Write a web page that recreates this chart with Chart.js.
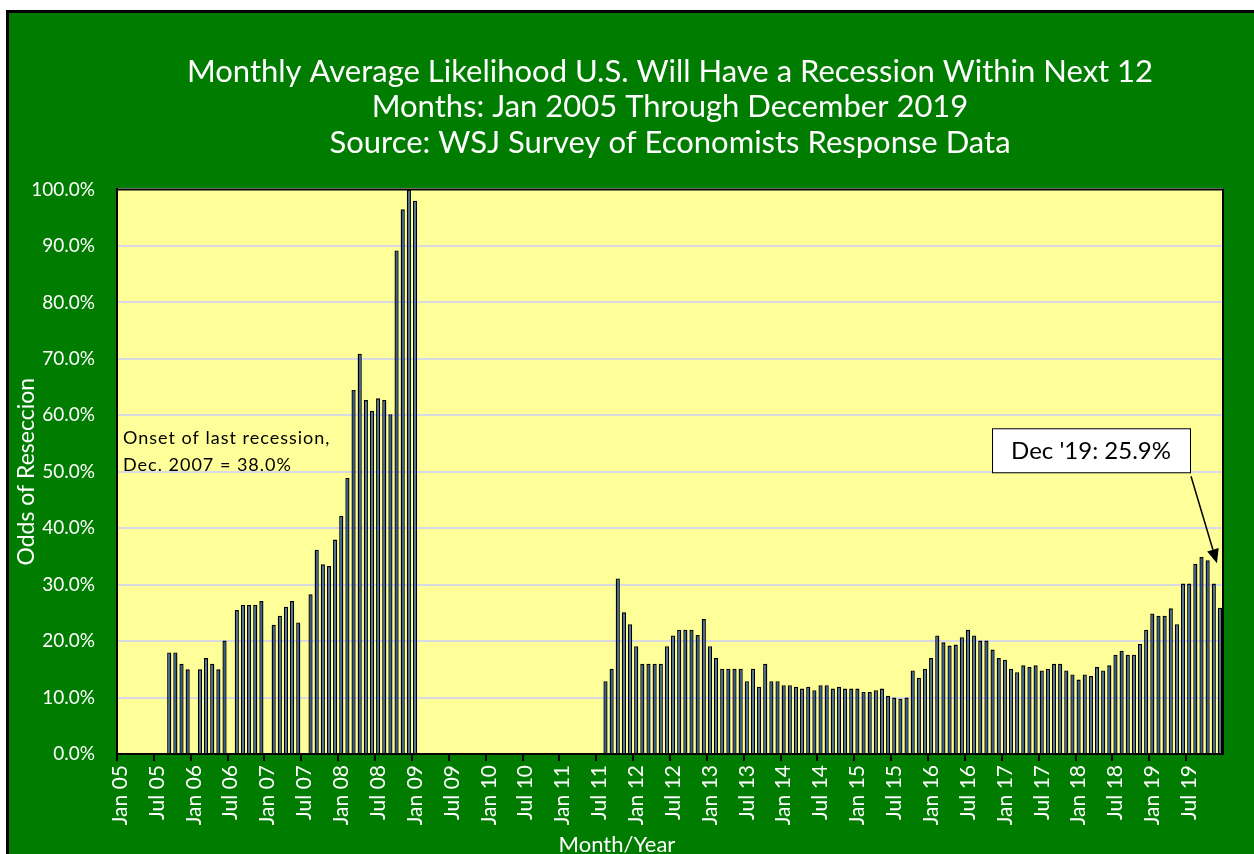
<!DOCTYPE html>
<html>
<head>
<meta charset="utf-8">
<title>Recession odds</title>
<script src="https://cdn.jsdelivr.net/npm/chart.js@4.4.1/dist/chart.umd.min.js"></script>
<style>
  html, body { margin: 0; padding: 0; background: #fff; overflow: hidden; }
  #frame { position: absolute; left: 6px; top: 10px; width: 1270px; height: 870px; background: #007D00; border: 3px solid #000; }
  #wrap { position: absolute; left: 0; top: 0; width: 1254px; height: 854px; }
</style>
</head>
<body>
<div id="frame"></div>
<div id="wrap"><canvas id="chart" width="1254" height="854"></canvas></div>
<script>
// month names and years for the category axis
const monthNames = ["Jan", "Feb", "Mar", "Apr", "May", "Jun", "Jul", "Aug", "Sep", "Oct", "Nov", "Dec"];
const years = ["05", "06", "07", "08", "09", "10", "11", "12", "13", "14", "15", "16", "17", "18", "19"];

// monthly average odds (%), null = no survey that month
const odds2005 = [null, null, null, null, null, null, null, null, 18.0, 18.0, 16.0, 15.0];
const odds2006 = [null, 15.0, 17.0, 16.0, 15.0, 20.1, null, 25.5, 26.4, 26.4, 26.4, 27.1];
const odds2007 = [null, 22.9, 24.5, 26.1, 27.1, 23.3, null, 28.3, 36.2, 33.6, 33.3, 38.0];
const odds2008 = [42.2, 48.9, 64.5, 70.9, 62.7, 60.8, 63.0, 62.7, 60.2, 89.2, 96.5, 100.0];
const odds2009 = [98.0, null, null, null, null, null, null, null, null, null, null, null];
const odds2010 = [null, null, null, null, null, null, null, null, null, null, null, null];
const odds2011 = [null, null, null, null, null, null, null, 12.9, 15.1, 31.1, 25.1, 23.0];
const odds2012 = [19.1, 16.0, 16.0, 16.0, 16.0, 19.1, 21.0, 22.0, 22.0, 22.0, 21.1, 23.9];
const odds2013 = [19.1, 17.0, 15.1, 15.1, 15.1, 15.1, 12.9, 15.1, 11.9, 16.0, 12.9, 12.9];
const odds2014 = [12.2, 12.2, 11.9, 11.6, 11.9, 11.3, 12.2, 12.2, 11.6, 11.9, 11.6, 11.6];
const odds2015 = [11.6, 11.0, 11.0, 11.3, 11.6, 10.3, 10.0, 9.8, 10.0, 14.8, 13.5, 15.1];
const odds2016 = [17.0, 21.0, 19.8, 19.2, 19.4, 20.7, 22.0, 21.0, 20.1, 20.1, 18.5, 17.0];
const odds2017 = [16.7, 15.1, 14.5, 15.7, 15.4, 15.7, 14.8, 15.1, 16.0, 16.0, 14.8, 14.1];
const odds2018 = [13.2, 14.1, 13.8, 15.4, 14.8, 15.7, 17.6, 18.3, 17.6, 17.6, 19.5, 22.0];
const odds2019 = [24.9, 24.5, 24.5, 25.8, 23.0, 30.2, 30.2, 33.7, 34.9, 34.3, 30.2, 25.9];

const titleLines = [
  "Monthly Average Likelihood U.S. Will Have a Recession Within Next 12",
  "Months: Jan 2005 Through December 2019",
  "Source: WSJ Survey of Economists Response Data"
];
const onsetNote = ["Onset of last recession,", "Dec. 2007 = 38.0%"];
const calloutText = "Dec '19: 25.9%";

const labels = [];
years.forEach(y => monthNames.forEach(m => labels.push(m + " " + y)));

const odds = [].concat(odds2005, odds2006, odds2007, odds2008, odds2009, odds2010, odds2011,
  odds2012, odds2013, odds2014, odds2015, odds2016, odds2017, odds2018, odds2019);

Chart.defaults.font.family = "Lato, 'Open Sans', sans-serif";

// yellow plot area, frame and the text notes
const plotDecor = {
  id: "plotDecor",
  beforeDraw(chart) {
    const { ctx, chartArea: a } = chart;
    ctx.save();
    ctx.fillStyle = "#FFFF99";
    ctx.fillRect(a.left, a.top, a.right - a.left, a.bottom - a.top);
    ctx.restore();
  },
  afterDraw(chart) {
    const { ctx, chartArea: a } = chart;
    const xs = chart.scales.x, ys = chart.scales.y;
    ctx.save();
    ctx.strokeStyle = "#000";
    ctx.lineWidth = 2;
    ctx.strokeRect(a.left, a.top, a.right - a.left, a.bottom - a.top);

    // onset note
    ctx.fillStyle = "#000";
    ctx.font = "18px Lato";
    ctx.letterSpacing = "1px";
    ctx.textBaseline = "middle";
    ctx.textAlign = "left";
    ctx.fillText(onsetNote[0], a.left + 6, ys.getPixelForValue(56.0));
    ctx.fillText(onsetNote[1], a.left + 6, ys.getPixelForValue(51.2));
    ctx.letterSpacing = "0px";

    // callout box
    const bx1 = a.right - 33, bx0 = bx1 - 198;
    const by0 = ys.getPixelForValue(57.7), by1 = by0 + 44;
    ctx.fillStyle = "#fff";
    ctx.fillRect(bx0, by0, bx1 - bx0, by1 - by0);
    ctx.lineWidth = 1;
    ctx.strokeRect(bx0 + 0.5, by0 + 0.5, bx1 - bx0, by1 - by0);
    ctx.fillStyle = "#000";
    ctx.font = "24px Lato";
    ctx.textAlign = "center";
    ctx.fillText(calloutText, (bx0 + bx1) / 2, (by0 + by1) / 2 + 1);

    // arrow to last bar
    const sx = bx1 + 1, sy = by1 + 4;
    const tx = xs.getPixelForValue(labels.length - 1) - 3, ty = ys.getPixelForValue(33.8);
    const ang = Math.atan2(ty - sy, tx - sx);
    const hl = 14, hw = 6;
    const bxp = tx - hl * Math.cos(ang), byp = ty - hl * Math.sin(ang);
    ctx.lineWidth = 1.5;
    ctx.beginPath();
    ctx.moveTo(sx, sy);
    ctx.lineTo(bxp, byp);
    ctx.stroke();
    ctx.beginPath();
    ctx.moveTo(tx, ty);
    ctx.lineTo(bxp + hw * Math.sin(ang), byp - hw * Math.cos(ang));
    ctx.lineTo(bxp - hw * Math.sin(ang), byp + hw * Math.cos(ang));
    ctx.closePath();
    ctx.fill();

    // x axis title
    ctx.fillStyle = "#fff";
    ctx.font = "22px Lato";
    ctx.textAlign = "center";
    ctx.fillText("Month/Year", (a.left + a.right) / 2 - 53, 845);
    ctx.restore();
  }
};

new Chart(document.getElementById("chart"), {
  type: "bar",
  data: {
    labels: labels,
    datasets: [{
      data: odds,
      backgroundColor: "#2F5FA6",
      borderColor: "#000",
      borderWidth: 1.4,
      barPercentage: 0.68,
      categoryPercentage: 1.0
    }]
  },
  options: {
    responsive: false,
    animation: false,
    layout: { padding: { left: 10, right: 31, top: 0, bottom: 0 } },
    plugins: {
      legend: { display: false },
      tooltip: { enabled: false },
      title: {
        display: true,
        fullSize: false,
        text: titleLines,
        color: "#fff",
        font: { size: 31, weight: "normal", lineHeight: 1.145 },
        padding: { top: 54, bottom: 29 }
      }
    },
    scales: {
      x: {
        offset: true,
        afterFit(scale) { scale.height = 100; },
        grid: {
          offset: true,
          drawOnChartArea: false,
          tickLength: 7,
          lineWidth: 2,
          color: c => (c.index % 6 === 0 ? "#000" : "rgba(0,0,0,0)")
        },
        border: { display: true, color: "#000", width: 2 },
        ticks: {
          autoSkip: false,
          minRotation: 90,
          maxRotation: 90,
          padding: 4,
          color: "#fff",
          font: { size: 21 },
          callback: function (v, i) { return i % 6 === 0 ? this.getLabelForValue(v) : ""; }
        }
      },
      y: {
        min: 0,
        max: 100,
        afterFit(scale) { scale.width = 107; },
        grid: { color: "#D9D9E4", lineWidth: 2, drawTicks: false },
        border: { display: true, color: "#000", width: 2 },
        ticks: {
          stepSize: 10,
          padding: 22,
          color: "#fff",
          font: { size: 19 },
          callback: v => v.toFixed(1) + "%"
        },
        title: {
          display: true,
          text: "Odds of Reseccion",
          color: "#fff",
          font: { size: 23 },
          padding: { top: 3, bottom: 0 }
        }
      }
    }
  },
  plugins: [plotDecor]
});
</script>
</body>
</html>
